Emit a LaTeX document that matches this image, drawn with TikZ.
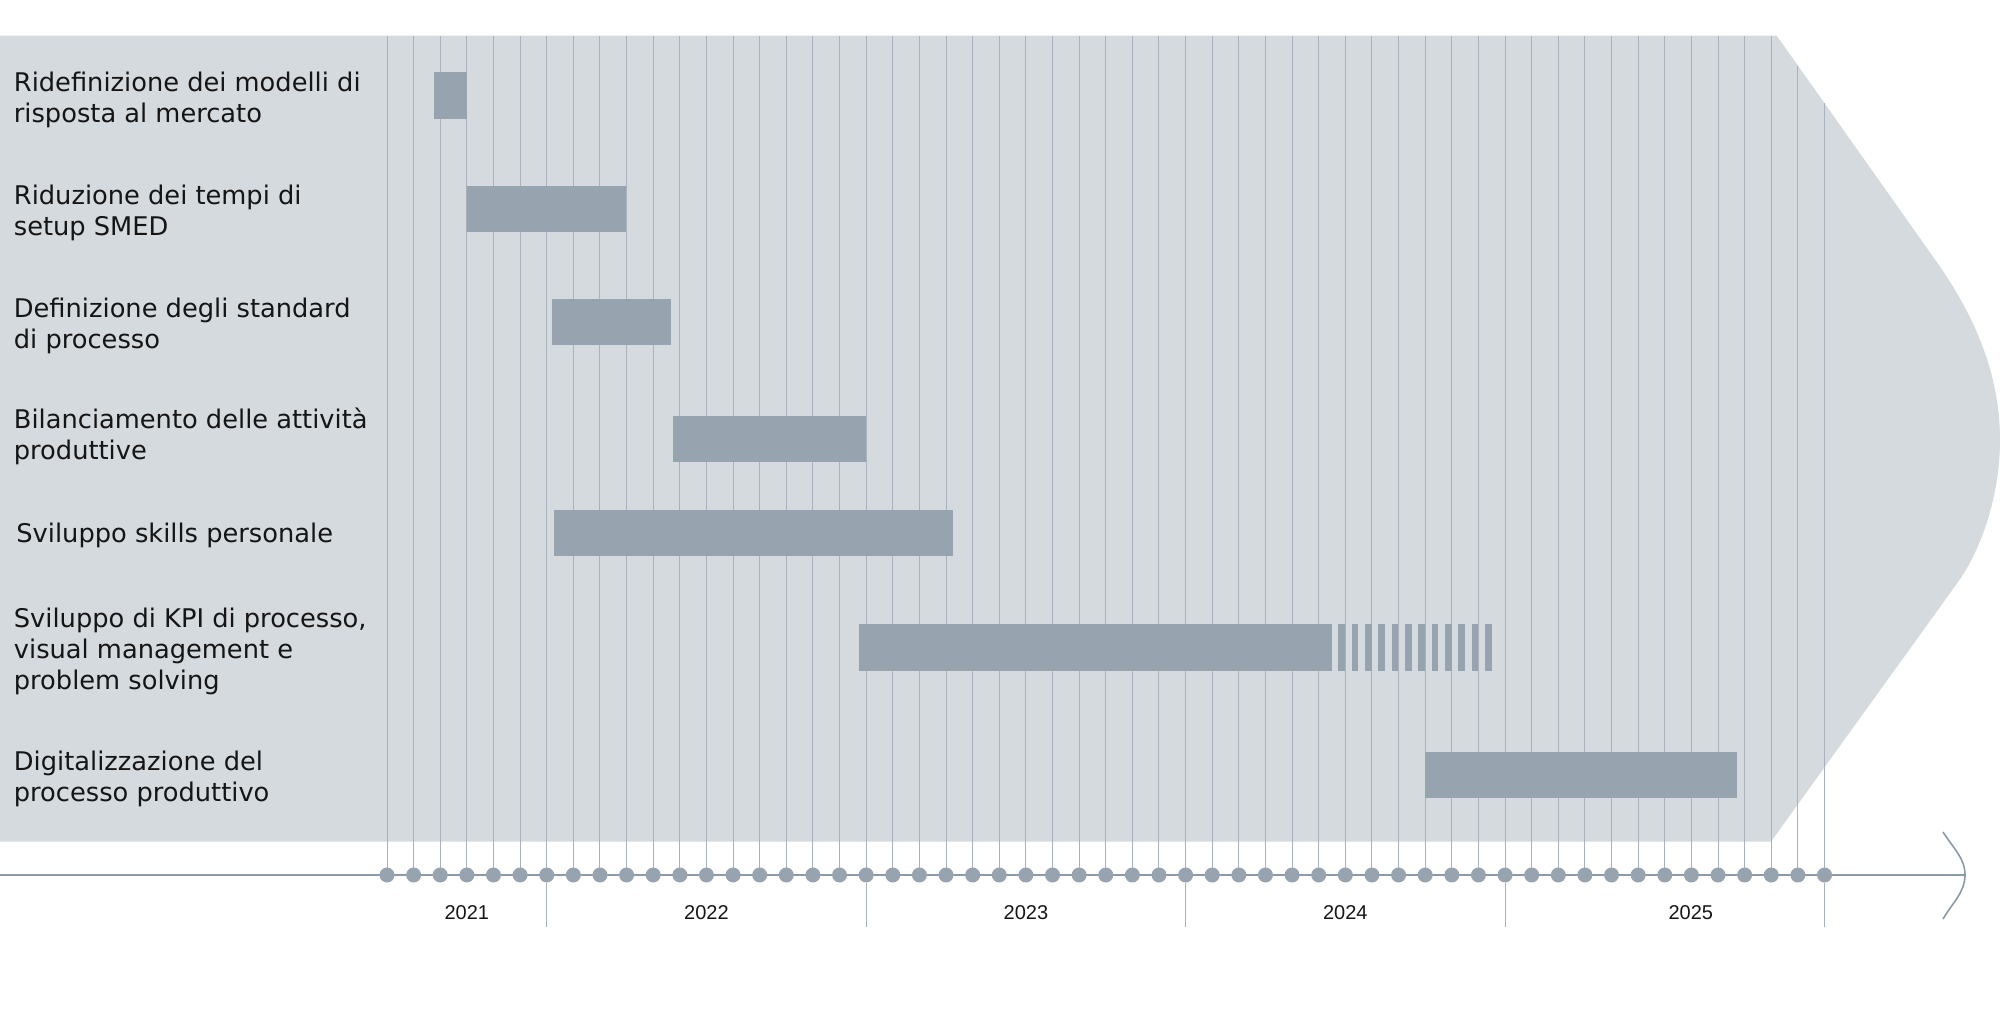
\documentclass[tikz,border=0pt]{standalone}
\usepackage{fontspec}
\setmainfont{DejaVu Sans}
\newfontfamily\yearfont{Liberation Sans}
\definecolor{bgc}{HTML}{D5DADF}
\definecolor{barc}{HTML}{97A3AF}
\definecolor{gridc}{HTML}{A9B2BC}
\definecolor{axisc}{HTML}{8C99A8}
\definecolor{txtc}{HTML}{151515}
\begin{document}
\begin{tikzpicture}[x=0.5pt,y=-0.5pt,
  gridln/.style={draw=gridc, line width=0.5pt},
  ganttbar/.style={fill=barc},
  mdot/.style={circle, fill=barc, inner sep=0pt, minimum size=7.5pt},
  axisline/.style={draw=axisc, line width=0.8pt},
  tasklab/.style={anchor=base west, inner sep=0pt, text=txtc, font=\fontsize{12.85}{15.5}\selectfont},
  yrlab/.style={anchor=base, inner sep=0pt, text=txtc, font=\yearfont\fontsize{10}{12}\selectfont}]
\useasboundingbox (0,0) rectangle (2000,1032);
% background shape
\fill[bgc] (0,35.7) -- (1776.7,35.7) -- (1935.3,260)
  .. controls (1962,298) and (2000,360) .. (2000,440)
  .. controls (2000,500) and (1978.5,553.6) .. (1958,582)
  -- (1771,841.5) -- (0,841.5) -- cycle;
% grid lines
\foreach \k in {0,...,54}{
  \pgfmathsetmacro\xx{387+26.62*\k}
  \pgfmathsetmacro\yt{max(35.7,35.7+(\xx-1776.7)*1.4146)}
  \coordinate (t\k) at (\xx,\yt);
  \coordinate (b\k) at (\xx,875);
  \draw[gridln] (t\k) -- (b\k);
}
% bars
\fill[ganttbar] (433.5,72.5) rectangle (466.8,119);
\fill[ganttbar] (466.8,186) rectangle (626.4,232.3);
\fill[ganttbar] (551.7,299) rectangle (671,345);
\fill[ganttbar] (673.3,415.7) rectangle (866,461.7);
\fill[ganttbar] (553.7,510.3) rectangle (952.7,556);
\fill[ganttbar] (859.3,624.3) rectangle (1332,671);
\foreach \i in {0,...,11}{
  \fill[ganttbar] ({1338.3+13.333*\i},624.3) rectangle ({1345+13.333*\i},671);
}
\fill[ganttbar] (1424.7,751.5) rectangle (1737.3,797.5);
% axis
\coordinate (axstart) at (0,875);
\coordinate (axend) at (1965,875);
\draw[axisline] (axstart) -- (axend);
\draw[axisline] (1943,832) .. controls (1953,848) and (1965,858) .. (axend)
  .. controls (1965,892) and (1953,902) .. (1943,919);
% dots
\foreach \k in {0,...,54}{
  \node[mdot] (d\k) at (b\k) {};
}
% year ticks
\foreach \k in {6,18,30,42,54}{
  \draw[gridln] (d\k.south) -- ++(0,44.5);
}
% year labels
\node[yrlab] (y2021) at (466.8,919) {2021};
\node[yrlab] (y2022) at (706.4,919) {2022};
\node[yrlab] (y2023) at (1025.9,919) {2023};
\node[yrlab] (y2024) at (1345.3,919) {2024};
\node[yrlab] (y2025) at (1690.8,919) {2025};
% task labels
\node[tasklab] (l1) at (13.5,92) {\begin{tabular}[t]{@{}l@{}}Ridefinizione dei modelli di\\risposta al mercato\end{tabular}};
\node[tasklab] (l2) at (13.5,205) {\begin{tabular}[t]{@{}l@{}}Riduzione dei tempi di\\setup SMED\end{tabular}};
\node[tasklab] (l3) at (13.5,317.7) {\begin{tabular}[t]{@{}l@{}}Definizione degli standard\\di processo\end{tabular}};
\node[tasklab] (l4) at (13.5,428.3) {\begin{tabular}[t]{@{}l@{}}Bilanciamento delle attività\\produttive\end{tabular}};
\node[tasklab] (l5) at (16,542.5) {Sviluppo skills personale};
\node[tasklab] (l6) at (13.5,627.3) {\begin{tabular}[t]{@{}l@{}}Sviluppo di KPI di processo,\\visual management e\\problem solving\end{tabular}};
\node[tasklab] (l7) at (13.5,770) {\begin{tabular}[t]{@{}l@{}}Digitalizzazione del\\processo produttivo\end{tabular}};
\end{tikzpicture}
\end{document}
